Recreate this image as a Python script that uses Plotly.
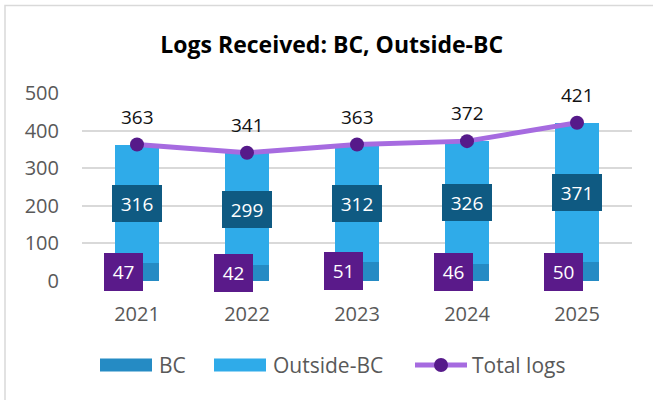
import plotly.graph_objects as go

years = ["2021", "2022", "2023", "2024", "2025"]
bc = [47, 42, 51, 46, 50]
outside_bc = [316, 299, 312, 326, 371]
total_logs = [363, 341, 363, 372, 421]
y_ticks = [0, 100, 200, 300, 400, 500]
series_names = ["BC", "Outside-BC", "Total logs"]

FONT = "Open Sans"
GRAY = "#595959"
C_BC = "#258BC4"
C_OUT = "#2FABE9"
C_OUT_LBL = "#0F5A82"
C_BC_LBL = "#5A1A8A"
C_LINE = "#A66BE0"
C_MARK = "#561A8A"

W, H = 653, 400
L, R, T, B = 82, 21, 93, 119
PW, PH = W - L - R, H - T - B


def px(xp):
    return (xp - L) / PW


def py(yp):
    return (H - B - yp) / PH


fig = go.Figure()
fig.add_trace(go.Bar(name=series_names[0], x=years, y=bc, marker_color=C_BC, width=0.4,
                     marker_line_width=0))
fig.add_trace(go.Bar(name=series_names[1], x=years, y=outside_bc, marker_color=C_OUT,
                     width=0.4, marker_line_width=0))
fig.add_trace(go.Scatter(name=series_names[2], x=years, y=total_logs, mode="lines+markers",
                         line=dict(color=C_LINE, width=5),
                         marker=dict(color=C_MARK, size=14)))

ann = []
for i, (b, o, t) in enumerate(zip(bc, outside_bc, total_logs)):
    ann.append(dict(x=i, y=b / 2, text=str(b), showarrow=False, xshift=-14,
                    font=dict(family=FONT, size=19, color="white"),
                    bgcolor=C_BC_LBL, borderwidth=0, borderpad=0, width=39, height=38))
    ann.append(dict(x=i, y=b + o / 2, text=str(o), showarrow=False,
                    font=dict(family=FONT, size=19, color="white"),
                    bgcolor=C_OUT_LBL, borderwidth=0, borderpad=0, width=50, height=37))
    ann.append(dict(x=i, y=t, text=str(t), showarrow=False, yshift=28,
                    font=dict(family=FONT, size=19, color="#111111")))

# custom legend (wide swatches as in the reference)
LEG_Y = 365
shapes = [
    dict(type="rect", xref="paper", yref="paper",
         x0=px(5), x1=2, y0=-2, y1=py(5.5),
         line=dict(color="#D9D9D9", width=1.5), layer="below"),
    dict(type="rect", xref="paper", yref="paper", x0=px(100), x1=px(152),
         y0=py(LEG_Y + 6.5), y1=py(LEG_Y - 6.5), fillcolor=C_BC, line=dict(width=0)),
    dict(type="rect", xref="paper", yref="paper", x0=px(214), x1=px(266),
         y0=py(LEG_Y + 6.5), y1=py(LEG_Y - 6.5), fillcolor=C_OUT, line=dict(width=0)),
    dict(type="line", xref="paper", yref="paper", x0=px(415), x1=px(467),
         y0=py(LEG_Y), y1=py(LEG_Y), line=dict(color=C_LINE, width=5)),
    dict(type="circle", xref="paper", yref="paper", x0=px(434), x1=px(448),
         y0=py(LEG_Y + 7), y1=py(LEG_Y - 7), fillcolor=C_MARK, line=dict(width=0)),
]
for name, xl in zip(series_names, [157, 271, 470]):
    ann.append(dict(xref="paper", yref="paper", x=px(xl), y=py(LEG_Y), xanchor="left",
                    yanchor="middle", text=name, showarrow=False,
                    font=dict(family=FONT, size=21, color=GRAY)))

fig.update_layout(
    width=W, height=H,
    margin=dict(l=L, r=R, t=T, b=B),
    paper_bgcolor="white", plot_bgcolor="white",
    barmode="stack", showlegend=False,
    title=dict(text="<b>Logs Received: BC, Outside-BC</b>", x=0.508, xanchor="center",
               y=1 - 45 / H, yanchor="middle",
               font=dict(family=FONT, size=23, color="#000000")),
    xaxis=dict(type="category", range=[-0.5, len(years) - 0.5], showgrid=False,
               showline=False, ticks="", ticklabelstandoff=19,
               tickfont=dict(family=FONT, size=20, color=GRAY)),
    yaxis=dict(range=[0, 500], tickvals=y_ticks, showgrid=True, gridcolor="#D9D9D9",
               gridwidth=1.5, zeroline=False, showline=False, ticks="",
               ticklabelstandoff=22,
               tickfont=dict(family=FONT, size=20, color=GRAY)),
    annotations=ann,
    shapes=shapes,
)

fig.write_html("out.html", config={"displayModeBar": False},
               post_script="document.body.style.margin='0';")
